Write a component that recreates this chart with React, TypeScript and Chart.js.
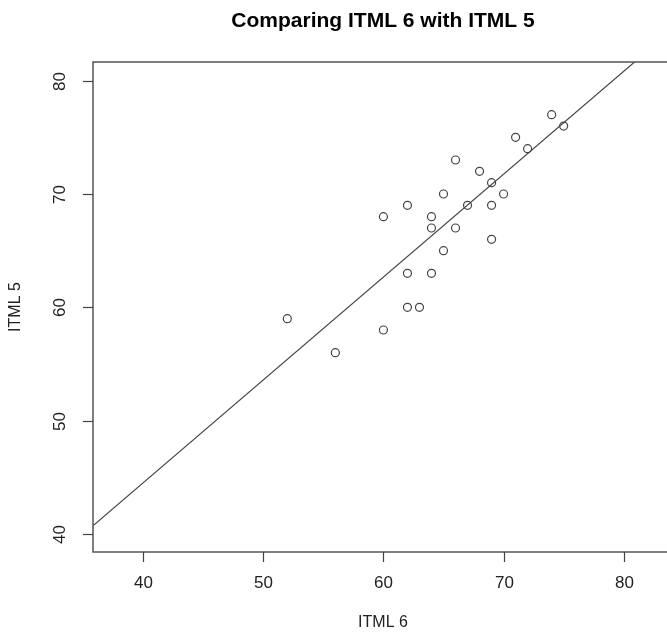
import React, { useEffect, useRef } from "react";
import { Chart, registerables } from "chart.js";

Chart.register(...registerables);

const TITLE = "Comparing ITML 6 with ITML 5";
const X_LABEL = "ITML 6";
const Y_LABEL = "ITML 5";

// ITML 6 scores (x) and ITML 5 scores (y)
const itml6 = [74, 75, 71, 72, 66, 68, 69, 65, 70, 62, 67, 69, 60, 64, 64, 66, 69, 65, 62, 64, 62, 63, 60, 52, 56];
const itml5 = [77, 76, 75, 74, 73, 72, 71, 70, 70, 69, 69, 69, 68, 68, 67, 67, 66, 65, 63, 63, 60, 60, 58, 59, 56];

// fitted line endpoints
const fitX = [35, 85];
const fitY = [39.97, 85.37];

const xTicks = [40, 50, 60, 70, 80];
const yTicks = [40, 50, 60, 70, 80];

const X_MIN = 35.83;
const X_MAX = 84.1;
const Y_MIN = 38.41;
const Y_MAX = 81.65;

const FONT = '"Liberation Sans", Arial, Helvetica, sans-serif';

const axesPlugin = {
  id: "rAxes",
  afterDraw(chart: any) {
    const { ctx, chartArea } = chart;
    const xs = chart.scales.x;
    const ys = chart.scales.y;
    ctx.save();
    // box
    ctx.strokeStyle = "#555";
    ctx.lineWidth = 1.5;
    ctx.strokeRect(chartArea.left, chartArea.top, chartArea.right - chartArea.left, chartArea.bottom - chartArea.top);

    ctx.fillStyle = "#222";
    ctx.lineWidth = 1.2;
    ctx.strokeStyle = "#444";
    // x ticks
    ctx.font = `17px ${FONT}`;
    ctx.textAlign = "center";
    ctx.textBaseline = "middle";
    xTicks.forEach((v) => {
      const px = Math.round(xs.getPixelForValue(v)) + 0.5;
      ctx.beginPath();
      ctx.moveTo(px, chartArea.bottom);
      ctx.lineTo(px, chartArea.bottom + 10);
      ctx.stroke();
      ctx.fillText(String(v), px, chartArea.bottom + 31);
    });
    // y ticks (rotated labels)
    yTicks.forEach((v) => {
      const py = Math.round(ys.getPixelForValue(v)) + 0.5;
      ctx.beginPath();
      ctx.moveTo(chartArea.left, py);
      ctx.lineTo(chartArea.left - 10, py);
      ctx.stroke();
      ctx.save();
      ctx.translate(chartArea.left - 33, py);
      ctx.rotate(-Math.PI / 2);
      ctx.fillText(String(v), 0, 0);
      ctx.restore();
    });
    // axis titles
    ctx.font = `16px ${FONT}`;
    ctx.fillText(X_LABEL, (chartArea.left + chartArea.right) / 2, 623);
    ctx.save();
    ctx.translate(16, (chartArea.top + chartArea.bottom) / 2);
    ctx.rotate(-Math.PI / 2);
    ctx.fillText(Y_LABEL, 0, 0);
    ctx.restore();
    // main title
    ctx.font = `bold 21px ${FONT}`;
    ctx.fillStyle = "#000";
    ctx.textBaseline = "alphabetic";
    ctx.fillText(TITLE, (chartArea.left + chartArea.right) / 2, 27);
    ctx.restore();
  },
};

export default function App() {
  const ref = useRef<HTMLCanvasElement | null>(null);
  useEffect(() => {
    if (!ref.current) return;
    const points = itml6.map((x, i) => ({ x, y: itml5[i] }));
    const line = fitX.map((x, i) => ({ x, y: fitY[i] }));
    const chart = new Chart(ref.current, {
      type: "scatter",
      data: {
        datasets: [
          {
            type: "line",
            data: line,
            borderColor: "#444",
            borderWidth: 1.2,
            pointRadius: 0,
            showLine: true,
            fill: false,
          } as any,
          {
            data: points,
            pointRadius: 4,
            pointBorderWidth: 1.2,
            pointBorderColor: "#444",
            pointBackgroundColor: "rgba(0,0,0,0)",
            borderColor: "#444",
            backgroundColor: "rgba(0,0,0,0)",
          },
        ],
      },
      options: {
        responsive: false,
        animation: false,
        layout: { padding: { left: 93, top: 62, right: 7, bottom: 81 } },
        scales: {
          x: { type: "linear", min: X_MIN, max: X_MAX, display: false },
          y: { type: "linear", min: Y_MIN, max: Y_MAX, display: false },
        },
        plugins: { legend: { display: false }, tooltip: { enabled: false }, title: { display: false } },
      },
      plugins: [axesPlugin],
    });
    return () => chart.destroy();
  }, []);
  return (
    <div style={{ position: "absolute", left: 0, top: 0, width: 667, height: 633, overflow: "hidden", background: "#fff" }}>
      <canvas ref={ref} width={680} height={633} style={{ display: "block", width: 680, height: 633 }} />
    </div>
  );
}
